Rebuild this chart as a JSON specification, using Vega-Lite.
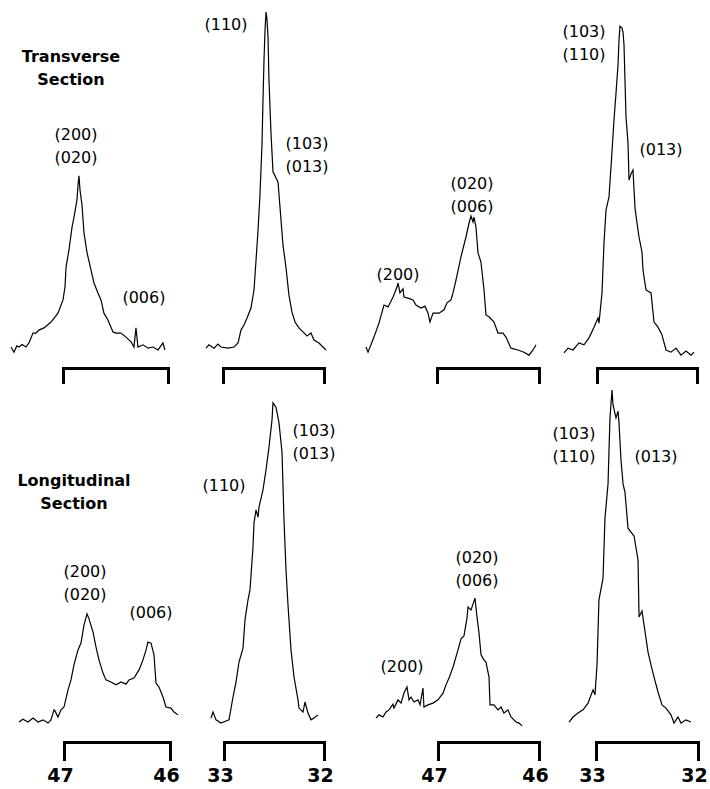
{
  "$schema": "https://vega.github.io/schema/vega-lite/v6.json",
  "background": "white",
  "padding": {"left": 8, "top": 0, "right": 0, "bottom": 0},
  "config": {
    "view": {"stroke": null},
    "axis": {"grid": false, "title": null, "domainColor": "black", "domainWidth": 3, "domainCap": "square", "tickColor": "black", "tickWidth": 3, "tickCap": "square", "labelFont": "DejaVu Sans", "labelFontSize": 19, "labelFontWeight": "bold", "labelColor": "black", "labelPadding": 7, "labelFlush": false, "labelOffset": -4, "format": "d"},
    "line": {"color": "black", "strokeWidth": 1.2},
    "text": {"color": "black", "font": "DejaVu Sans", "fontSize": 16, "lineHeight": 23, "align": "center", "baseline": "middle"}
  },
  "datasets": {
    "trace": [
      {"p":"T1","x":47.495,"y":5.7},{"p":"T1","x":47.467,"y":4.3},{"p":"T1","x":47.440,"y":6.0},{"p":"T1","x":47.419,"y":5.7},{"p":"T1","x":47.390,"y":6.4},{"p":"T1","x":47.352,"y":5.7},{"p":"T1","x":47.324,"y":6.8},{"p":"T1","x":47.286,"y":9.5},{"p":"T1","x":47.257,"y":9.5},{"p":"T1","x":47.229,"y":10.3},{"p":"T1","x":47.181,"y":10.9},{"p":"T1","x":47.114,"y":12.5},{"p":"T1","x":47.048,"y":14.9},{"p":"T1","x":47.000,"y":18.5},{"p":"T1","x":46.981,"y":22.0},{"p":"T1","x":46.971,"y":27.4},{"p":"T1","x":46.943,"y":32.1},{"p":"T1","x":46.914,"y":38.3},{"p":"T1","x":46.895,"y":41.0},{"p":"T1","x":46.867,"y":45.7},{"p":"T1","x":46.857,"y":49.7},{"p":"T1","x":46.848,"y":52.2},{"p":"T1","x":46.838,"y":48.4},{"p":"T1","x":46.819,"y":44.3},{"p":"T1","x":46.800,"y":36.7},{"p":"T1","x":46.771,"y":31.3},{"p":"T1","x":46.733,"y":26.6},{"p":"T1","x":46.705,"y":23.1},{"p":"T1","x":46.667,"y":20.4},{"p":"T1","x":46.638,"y":18.5},{"p":"T1","x":46.610,"y":14.9},{"p":"T1","x":46.571,"y":13.0},{"p":"T1","x":46.524,"y":9.8},{"p":"T1","x":46.495,"y":9.5},{"p":"T1","x":46.448,"y":9.5},{"p":"T1","x":46.400,"y":8.4},{"p":"T1","x":46.352,"y":7.1},{"p":"T1","x":46.324,"y":5.7},{"p":"T1","x":46.305,"y":10.9},{"p":"T1","x":46.286,"y":5.7},{"p":"T1","x":46.238,"y":6.3},{"p":"T1","x":46.190,"y":5.4},{"p":"T1","x":46.143,"y":5.7},{"p":"T1","x":46.095,"y":4.9},{"p":"T1","x":46.048,"y":6.8},{"p":"T1","x":46.029,"y":4.9},

      {"p":"T2","x":33.168,"y":5.4},{"p":"T2","x":33.139,"y":6.3},{"p":"T2","x":33.089,"y":5.4},{"p":"T2","x":33.050,"y":6.5},{"p":"T2","x":33.020,"y":5.7},{"p":"T2","x":32.950,"y":5.4},{"p":"T2","x":32.891,"y":5.7},{"p":"T2","x":32.851,"y":6.8},{"p":"T2","x":32.822,"y":10.3},{"p":"T2","x":32.792,"y":11.7},{"p":"T2","x":32.762,"y":13.6},{"p":"T2","x":32.723,"y":16.3},{"p":"T2","x":32.693,"y":21.2},{"p":"T2","x":32.673,"y":29.3},{"p":"T2","x":32.653,"y":37.5},{"p":"T2","x":32.634,"y":47.0},{"p":"T2","x":32.614,"y":60.6},{"p":"T2","x":32.604,"y":72.8},{"p":"T2","x":32.594,"y":83.7},{"p":"T2","x":32.584,"y":91.8},{"p":"T2","x":32.574,"y":96.7},{"p":"T2","x":32.564,"y":94.6},{"p":"T2","x":32.554,"y":89.7},{"p":"T2","x":32.545,"y":78.3},{"p":"T2","x":32.525,"y":63.9},{"p":"T2","x":32.505,"y":53.3},{"p":"T2","x":32.475,"y":51.6},{"p":"T2","x":32.455,"y":50.5},{"p":"T2","x":32.436,"y":43.8},{"p":"T2","x":32.406,"y":33.4},{"p":"T2","x":32.376,"y":27.2},{"p":"T2","x":32.347,"y":19.8},{"p":"T2","x":32.317,"y":15.2},{"p":"T2","x":32.287,"y":12.5},{"p":"T2","x":32.248,"y":10.9},{"p":"T2","x":32.208,"y":9.8},{"p":"T2","x":32.168,"y":8.7},{"p":"T2","x":32.129,"y":9.5},{"p":"T2","x":32.099,"y":7.6},{"p":"T2","x":32.050,"y":6.8},{"p":"T2","x":32.010,"y":5.7},{"p":"T2","x":31.980,"y":4.9},

      {"p":"T3","x":47.696,"y":5.7},{"p":"T3","x":47.676,"y":4.3},{"p":"T3","x":47.618,"y":8.4},{"p":"T3","x":47.569,"y":12.2},{"p":"T3","x":47.520,"y":17.1},{"p":"T3","x":47.480,"y":16.6},{"p":"T3","x":47.431,"y":19.3},{"p":"T3","x":47.392,"y":22.0},{"p":"T3","x":47.382,"y":23.1},{"p":"T3","x":47.363,"y":20.4},{"p":"T3","x":47.333,"y":21.5},{"p":"T3","x":47.324,"y":19.3},{"p":"T3","x":47.284,"y":19.0},{"p":"T3","x":47.235,"y":18.5},{"p":"T3","x":47.206,"y":17.1},{"p":"T3","x":47.157,"y":16.3},{"p":"T3","x":47.118,"y":16.8},{"p":"T3","x":47.088,"y":14.9},{"p":"T3","x":47.069,"y":12.5},{"p":"T3","x":47.039,"y":14.9},{"p":"T3","x":46.980,"y":14.9},{"p":"T3","x":46.931,"y":15.8},{"p":"T3","x":46.902,"y":17.7},{"p":"T3","x":46.863,"y":18.5},{"p":"T3","x":46.843,"y":20.4},{"p":"T3","x":46.814,"y":23.9},{"p":"T3","x":46.765,"y":30.2},{"p":"T3","x":46.716,"y":35.6},{"p":"T3","x":46.686,"y":39.4},{"p":"T3","x":46.667,"y":41.3},{"p":"T3","x":46.647,"y":39.7},{"p":"T3","x":46.637,"y":41.0},{"p":"T3","x":46.618,"y":38.3},{"p":"T3","x":46.598,"y":31.3},{"p":"T3","x":46.569,"y":28.8},{"p":"T3","x":46.539,"y":21.2},{"p":"T3","x":46.520,"y":14.4},{"p":"T3","x":46.490,"y":13.9},{"p":"T3","x":46.441,"y":12.5},{"p":"T3","x":46.402,"y":9.5},{"p":"T3","x":46.353,"y":9.5},{"p":"T3","x":46.324,"y":8.4},{"p":"T3","x":46.275,"y":5.4},{"p":"T3","x":46.206,"y":4.9},{"p":"T3","x":46.147,"y":4.3},{"p":"T3","x":46.098,"y":3.5},{"p":"T3","x":46.059,"y":4.9},{"p":"T3","x":46.029,"y":6.3},

      {"p":"T4","x":33.33,"y":4.1},{"p":"T4","x":33.29,"y":5.4},{"p":"T4","x":33.24,"y":4.9},{"p":"T4","x":33.18,"y":6.8},{"p":"T4","x":33.13,"y":6.3},{"p":"T4","x":33.08,"y":8.2},{"p":"T4","x":33.03,"y":11.1},{"p":"T4","x":32.99,"y":13.6},{"p":"T4","x":32.98,"y":12.2},{"p":"T4","x":32.95,"y":20.4},{"p":"T4","x":32.93,"y":34.0},{"p":"T4","x":32.91,"y":42.9},{"p":"T4","x":32.88,"y":46.5},{"p":"T4","x":32.86,"y":54.6},{"p":"T4","x":32.83,"y":67.4},{"p":"T4","x":32.81,"y":74.7},{"p":"T4","x":32.79,"y":82.3},{"p":"T4","x":32.78,"y":89.1},{"p":"T4","x":32.77,"y":92.9},{"p":"T4","x":32.75,"y":92.4},{"p":"T4","x":32.74,"y":91.3},{"p":"T4","x":32.73,"y":87.8},{"p":"T4","x":32.71,"y":68.2},{"p":"T4","x":32.69,"y":61.1},{"p":"T4","x":32.68,"y":51.1},{"p":"T4","x":32.66,"y":52.7},{"p":"T4","x":32.64,"y":53.8},{"p":"T4","x":32.62,"y":43.5},{"p":"T4","x":32.60,"y":39.4},{"p":"T4","x":32.58,"y":35.6},{"p":"T4","x":32.55,"y":31.5},{"p":"T4","x":32.54,"y":26.6},{"p":"T4","x":32.51,"y":21.2},{"p":"T4","x":32.46,"y":20.4},{"p":"T4","x":32.43,"y":12.5},{"p":"T4","x":32.39,"y":11.1},{"p":"T4","x":32.35,"y":9.0},{"p":"T4","x":32.31,"y":4.9},{"p":"T4","x":32.26,"y":4.3},{"p":"T4","x":32.21,"y":5.4},{"p":"T4","x":32.16,"y":3.5},{"p":"T4","x":32.11,"y":4.6},{"p":"T4","x":32.06,"y":3.5},{"p":"T4","x":32.03,"y":4.3},

      {"p":"L1","x":47.425,"y":5.6},{"p":"L1","x":47.387,"y":6.4},{"p":"L1","x":47.340,"y":5.6},{"p":"L1","x":47.292,"y":6.7},{"p":"L1","x":47.245,"y":5.6},{"p":"L1","x":47.198,"y":6.2},{"p":"L1","x":47.151,"y":5.3},{"p":"L1","x":47.123,"y":6.2},{"p":"L1","x":47.094,"y":9.0},{"p":"L1","x":47.085,"y":8.7},{"p":"L1","x":47.057,"y":7.0},{"p":"L1","x":47.028,"y":9.0},{"p":"L1","x":47.000,"y":9.8},{"p":"L1","x":46.962,"y":14.6},{"p":"L1","x":46.934,"y":17.4},{"p":"L1","x":46.906,"y":21.6},{"p":"L1","x":46.868,"y":25.8},{"p":"L1","x":46.840,"y":27.7},{"p":"L1","x":46.811,"y":32.8},{"p":"L1","x":46.783,"y":35.9},{"p":"L1","x":46.764,"y":34.5},{"p":"L1","x":46.726,"y":30.8},{"p":"L1","x":46.698,"y":26.6},{"p":"L1","x":46.670,"y":23.0},{"p":"L1","x":46.632,"y":19.3},{"p":"L1","x":46.604,"y":17.4},{"p":"L1","x":46.557,"y":16.8},{"p":"L1","x":46.509,"y":16.0},{"p":"L1","x":46.462,"y":16.8},{"p":"L1","x":46.415,"y":16.2},{"p":"L1","x":46.387,"y":17.4},{"p":"L1","x":46.340,"y":17.9},{"p":"L1","x":46.292,"y":20.2},{"p":"L1","x":46.255,"y":23.0},{"p":"L1","x":46.226,"y":25.8},{"p":"L1","x":46.208,"y":28.0},{"p":"L1","x":46.179,"y":27.7},{"p":"L1","x":46.151,"y":24.4},{"p":"L1","x":46.132,"y":16.5},{"p":"L1","x":46.104,"y":15.4},{"p":"L1","x":46.066,"y":12.6},{"p":"L1","x":46.038,"y":9.8},{"p":"L1","x":45.991,"y":9.5},{"p":"L1","x":45.962,"y":8.4},{"p":"L1","x":45.925,"y":7.6},

      {"p":"L2","x":33.13,"y":6.7},{"p":"L2","x":33.11,"y":8.4},{"p":"L2","x":33.08,"y":6.2},{"p":"L2","x":33.03,"y":5.3},{"p":"L2","x":32.98,"y":5.9},{"p":"L2","x":32.95,"y":6.2},{"p":"L2","x":32.91,"y":12.6},{"p":"L2","x":32.88,"y":16.8},{"p":"L2","x":32.85,"y":22.4},{"p":"L2","x":32.81,"y":26.3},{"p":"L2","x":32.79,"y":34.2},{"p":"L2","x":32.76,"y":39.8},{"p":"L2","x":32.74,"y":42.6},{"p":"L2","x":32.71,"y":54.6},{"p":"L2","x":32.70,"y":61.3},{"p":"L2","x":32.68,"y":65.0},{"p":"L2","x":32.66,"y":63.0},{"p":"L2","x":32.65,"y":65.8},{"p":"L2","x":32.61,"y":70.6},{"p":"L2","x":32.58,"y":76.2},{"p":"L2","x":32.55,"y":82.6},{"p":"L2","x":32.52,"y":90.2},{"p":"L2","x":32.51,"y":95.0},{"p":"L2","x":32.48,"y":93.8},{"p":"L2","x":32.45,"y":89.4},{"p":"L2","x":32.42,"y":81.2},{"p":"L2","x":32.40,"y":62.2},{"p":"L2","x":32.38,"y":48.2},{"p":"L2","x":32.36,"y":38.4},{"p":"L2","x":32.33,"y":25.8},{"p":"L2","x":32.30,"y":18.2},{"p":"L2","x":32.26,"y":11.8},{"p":"L2","x":32.25,"y":9.5},{"p":"L2","x":32.21,"y":8.4},{"p":"L2","x":32.19,"y":11.2},{"p":"L2","x":32.16,"y":8.1},{"p":"L2","x":32.13,"y":6.2},{"p":"L2","x":32.10,"y":6.7},{"p":"L2","x":32.06,"y":7.6},

      {"p":"L3","x":47.614,"y":6.7},{"p":"L3","x":47.584,"y":7.6},{"p":"L3","x":47.545,"y":7.0},{"p":"L3","x":47.515,"y":8.4},{"p":"L3","x":47.485,"y":9.0},{"p":"L3","x":47.446,"y":10.6},{"p":"L3","x":47.436,"y":9.5},{"p":"L3","x":47.396,"y":11.8},{"p":"L3","x":47.366,"y":10.9},{"p":"L3","x":47.337,"y":13.7},{"p":"L3","x":47.307,"y":15.4},{"p":"L3","x":47.287,"y":11.8},{"p":"L3","x":47.267,"y":12.6},{"p":"L3","x":47.238,"y":11.2},{"p":"L3","x":47.198,"y":11.8},{"p":"L3","x":47.178,"y":10.4},{"p":"L3","x":47.149,"y":15.1},{"p":"L3","x":47.139,"y":9.8},{"p":"L3","x":47.099,"y":10.4},{"p":"L3","x":47.050,"y":10.9},{"p":"L3","x":47.000,"y":11.8},{"p":"L3","x":46.950,"y":13.7},{"p":"L3","x":46.921,"y":16.0},{"p":"L3","x":46.891,"y":17.9},{"p":"L3","x":46.851,"y":21.0},{"p":"L3","x":46.802,"y":25.8},{"p":"L3","x":46.772,"y":28.9},{"p":"L3","x":46.743,"y":29.7},{"p":"L3","x":46.713,"y":34.7},{"p":"L3","x":46.703,"y":37.8},{"p":"L3","x":46.673,"y":37.0},{"p":"L3","x":46.653,"y":38.7},{"p":"L3","x":46.634,"y":40.3},{"p":"L3","x":46.614,"y":35.0},{"p":"L3","x":46.594,"y":30.5},{"p":"L3","x":46.574,"y":24.4},{"p":"L3","x":46.545,"y":23.0},{"p":"L3","x":46.525,"y":22.4},{"p":"L3","x":46.495,"y":18.2},{"p":"L3","x":46.485,"y":10.4},{"p":"L3","x":46.446,"y":10.4},{"p":"L3","x":46.406,"y":9.0},{"p":"L3","x":46.376,"y":9.8},{"p":"L3","x":46.347,"y":8.1},{"p":"L3","x":46.307,"y":9.0},{"p":"L3","x":46.277,"y":7.0},{"p":"L3","x":46.228,"y":5.6},{"p":"L3","x":46.198,"y":5.3},{"p":"L3","x":46.168,"y":4.5},

      {"p":"L4","x":33.265,"y":5.6},{"p":"L4","x":33.225,"y":7.0},{"p":"L4","x":33.176,"y":8.1},{"p":"L4","x":33.127,"y":9.0},{"p":"L4","x":33.078,"y":10.9},{"p":"L4","x":33.029,"y":14.6},{"p":"L4","x":33.010,"y":13.2},{"p":"L4","x":32.990,"y":21.6},{"p":"L4","x":32.971,"y":39.8},{"p":"L4","x":32.931,"y":45.9},{"p":"L4","x":32.912,"y":62.7},{"p":"L4","x":32.882,"y":72.3},{"p":"L4","x":32.873,"y":81.2},{"p":"L4","x":32.863,"y":90.8},{"p":"L4","x":32.843,"y":98.6},{"p":"L4","x":32.833,"y":94.4},{"p":"L4","x":32.804,"y":90.8},{"p":"L4","x":32.784,"y":92.7},{"p":"L4","x":32.775,"y":89.6},{"p":"L4","x":32.755,"y":79.0},{"p":"L4","x":32.735,"y":72.3},{"p":"L4","x":32.716,"y":70.0},{"p":"L4","x":32.686,"y":59.9},{"p":"L4","x":32.657,"y":58.8},{"p":"L4","x":32.627,"y":57.7},{"p":"L4","x":32.588,"y":51.0},{"p":"L4","x":32.578,"y":35.0},{"p":"L4","x":32.549,"y":36.7},{"p":"L4","x":32.529,"y":32.8},{"p":"L4","x":32.490,"y":25.2},{"p":"L4","x":32.461,"y":21.6},{"p":"L4","x":32.431,"y":18.2},{"p":"L4","x":32.392,"y":14.0},{"p":"L4","x":32.353,"y":10.4},{"p":"L4","x":32.314,"y":9.5},{"p":"L4","x":32.265,"y":7.6},{"p":"L4","x":32.235,"y":5.3},{"p":"L4","x":32.196,"y":7.0},{"p":"L4","x":32.167,"y":5.3},{"p":"L4","x":32.118,"y":6.2},{"p":"L4","x":32.069,"y":5.6}
    ],
    "label": [
      {"p":"T1","x":46.876,"y":63.2,"t":"(200)\n(020)"},
      {"p":"T1","x":46.229,"y":19.0,"t":"(006)"},
      {"p":"T2","x":32.970,"y":93.2,"t":"(110)"},
      {"p":"T2","x":32.168,"y":61.0,"t":"(103)\n(013)"},
      {"p":"T3","x":47.382,"y":25.3,"t":"(200)"},
      {"p":"T3","x":46.657,"y":50.1,"t":"(020)\n(006)"},
      {"p":"T4","x":33.13,"y":91.4,"t":"(103)\n(110)"},
      {"p":"T4","x":32.36,"y":59.2,"t":"(013)"},
      {"p":"L1","x":46.802,"y":47.6,"t":"(200)\n(020)"},
      {"p":"L1","x":46.179,"y":36.1,"t":"(006)"},
      {"p":"L2","x":33.00,"y":71.7,"t":"(110)"},
      {"p":"L2","x":32.10,"y":87.1,"t":"(103)\n(013)"},
      {"p":"L3","x":47.356,"y":21.0,"t":"(200)"},
      {"p":"L3","x":46.614,"y":51.4,"t":"(020)\n(006)"},
      {"p":"L4","x":33.216,"y":86.3,"t":"(103)\n(110)"},
      {"p":"L4","x":32.412,"y":79.8,"t":"(013)"}
    ],
    "title": [
      {"p":"T1","x":46.924,"y":84.5,"t":"Transverse\nSection"},
      {"p":"L1","x":46.906,"y":73.1,"t":"Longitudinal\nSection"}
    ]
  },
  "bounds": "flush",
  "columns": 4,
  "spacing": {"row": 6, "column": 0},
  "concat": [
    {
      "width": 160, "height": 368,
      "encoding": {
        "x": {"field": "x", "type": "quantitative", "scale": {"domain": [47, 46], "range": [0, 105], "nice": false, "zero": false}, "axis": {"values": [46, 47], "labels": false, "tickSize": 14}},
        "y": {"field": "y", "type": "quantitative", "scale": {"domain": [0, 100], "nice": false, "zero": false}, "axis": null}
      },
      "layer": [
        {"data": {"name": "trace"}, "transform": [{"filter": "datum.p == 'T1'"}], "mark": {"type": "line", "clip": false}, "encoding": {}},
        {"data": {"name": "label"}, "transform": [{"filter": "datum.p == 'T1'"}], "mark": {"type": "text", "clip": false, "lineBreak": "\n"}, "encoding": {"text": {"field": "t"}}},
        {"data": {"name": "title"}, "transform": [{"filter": "datum.p == 'T1'"}], "mark": {"type": "text", "clip": false, "lineBreak": "\n", "fontWeight": "bold"}, "encoding": {"text": {"field": "t"}}}
      ]
    },
    {
      "width": 160, "height": 368,
      "encoding": {
        "x": {"field": "x", "type": "quantitative", "scale": {"domain": [33, 32], "range": [0, 101], "nice": false, "zero": false}, "axis": {"values": [32, 33], "labels": false, "tickSize": 14}},
        "y": {"field": "y", "type": "quantitative", "scale": {"domain": [0, 100], "nice": false, "zero": false}, "axis": null}
      },
      "layer": [
        {"data": {"name": "trace"}, "transform": [{"filter": "datum.p == 'T2'"}], "mark": {"type": "line", "clip": false}, "encoding": {}},
        {"data": {"name": "label"}, "transform": [{"filter": "datum.p == 'T2'"}], "mark": {"type": "text", "clip": false, "lineBreak": "\n"}, "encoding": {"text": {"field": "t"}}}
      ]
    },
    {
      "width": 160, "height": 368,
      "encoding": {
        "x": {"field": "x", "type": "quantitative", "scale": {"domain": [47, 46], "range": [54, 156], "nice": false, "zero": false}, "axis": {"values": [46, 47], "labels": false, "tickSize": 14}},
        "y": {"field": "y", "type": "quantitative", "scale": {"domain": [0, 100], "nice": false, "zero": false}, "axis": null}
      },
      "layer": [
        {"data": {"name": "trace"}, "transform": [{"filter": "datum.p == 'T3'"}], "mark": {"type": "line", "clip": false}, "encoding": {}},
        {"data": {"name": "label"}, "transform": [{"filter": "datum.p == 'T3'"}], "mark": {"type": "text", "clip": false, "lineBreak": "\n"}, "encoding": {"text": {"field": "t"}}}
      ]
    },
    {
      "width": 160, "height": 368,
      "encoding": {
        "x": {"field": "x", "type": "quantitative", "scale": {"domain": [33, 32], "range": [54, 154], "nice": false, "zero": false}, "axis": {"values": [32, 33], "labels": false, "tickSize": 14}},
        "y": {"field": "y", "type": "quantitative", "scale": {"domain": [0, 100], "nice": false, "zero": false}, "axis": null}
      },
      "layer": [
        {"data": {"name": "trace"}, "transform": [{"filter": "datum.p == 'T4'"}], "mark": {"type": "line", "clip": false}, "encoding": {}},
        {"data": {"name": "label"}, "transform": [{"filter": "datum.p == 'T4'"}], "mark": {"type": "text", "clip": false, "lineBreak": "\n"}, "encoding": {"text": {"field": "t"}}}
      ]
    },
    {
      "width": 160, "height": 368,
      "encoding": {
        "x": {"field": "x", "type": "quantitative", "scale": {"domain": [47, 46], "range": [1, 107], "nice": false, "zero": false}, "axis": {"values": [46, 47], "tickSize": 17}},
        "y": {"field": "y", "type": "quantitative", "scale": {"domain": [0, 103.08], "nice": false, "zero": false}, "axis": null}
      },
      "layer": [
        {"data": {"name": "trace"}, "transform": [{"filter": "datum.p == 'L1'"}], "mark": {"type": "line", "clip": false}, "encoding": {}},
        {"data": {"name": "label"}, "transform": [{"filter": "datum.p == 'L1'"}], "mark": {"type": "text", "clip": false, "lineBreak": "\n"}, "encoding": {"text": {"field": "t"}}},
        {"data": {"name": "title"}, "transform": [{"filter": "datum.p == 'L1'"}], "mark": {"type": "text", "clip": false, "lineBreak": "\n", "fontWeight": "bold"}, "encoding": {"text": {"field": "t"}}}
      ]
    },
    {
      "width": 160, "height": 368,
      "encoding": {
        "x": {"field": "x", "type": "quantitative", "scale": {"domain": [33, 32], "range": [1, 101], "nice": false, "zero": false}, "axis": {"values": [32, 33], "tickSize": 17}},
        "y": {"field": "y", "type": "quantitative", "scale": {"domain": [0, 103.08], "nice": false, "zero": false}, "axis": null}
      },
      "layer": [
        {"data": {"name": "trace"}, "transform": [{"filter": "datum.p == 'L2'"}], "mark": {"type": "line", "clip": false}, "encoding": {}},
        {"data": {"name": "label"}, "transform": [{"filter": "datum.p == 'L2'"}], "mark": {"type": "text", "clip": false, "lineBreak": "\n"}, "encoding": {"text": {"field": "t"}}}
      ]
    },
    {
      "width": 160, "height": 368,
      "encoding": {
        "x": {"field": "x", "type": "quantitative", "scale": {"domain": [47, 46], "range": [55, 156], "nice": false, "zero": false}, "axis": {"values": [46, 47], "tickSize": 17}},
        "y": {"field": "y", "type": "quantitative", "scale": {"domain": [0, 103.08], "nice": false, "zero": false}, "axis": null}
      },
      "layer": [
        {"data": {"name": "trace"}, "transform": [{"filter": "datum.p == 'L3'"}], "mark": {"type": "line", "clip": false}, "encoding": {}},
        {"data": {"name": "label"}, "transform": [{"filter": "datum.p == 'L3'"}], "mark": {"type": "text", "clip": false, "lineBreak": "\n"}, "encoding": {"text": {"field": "t"}}}
      ]
    },
    {
      "width": 160, "height": 368,
      "encoding": {
        "x": {"field": "x", "type": "quantitative", "scale": {"domain": [33, 32], "range": [53, 155], "nice": false, "zero": false}, "axis": {"values": [32, 33], "tickSize": 17}},
        "y": {"field": "y", "type": "quantitative", "scale": {"domain": [0, 103.08], "nice": false, "zero": false}, "axis": null}
      },
      "layer": [
        {"data": {"name": "trace"}, "transform": [{"filter": "datum.p == 'L4'"}], "mark": {"type": "line", "clip": false}, "encoding": {}},
        {"data": {"name": "label"}, "transform": [{"filter": "datum.p == 'L4'"}], "mark": {"type": "text", "clip": false, "lineBreak": "\n"}, "encoding": {"text": {"field": "t"}}}
      ]
    }
  ]
}
